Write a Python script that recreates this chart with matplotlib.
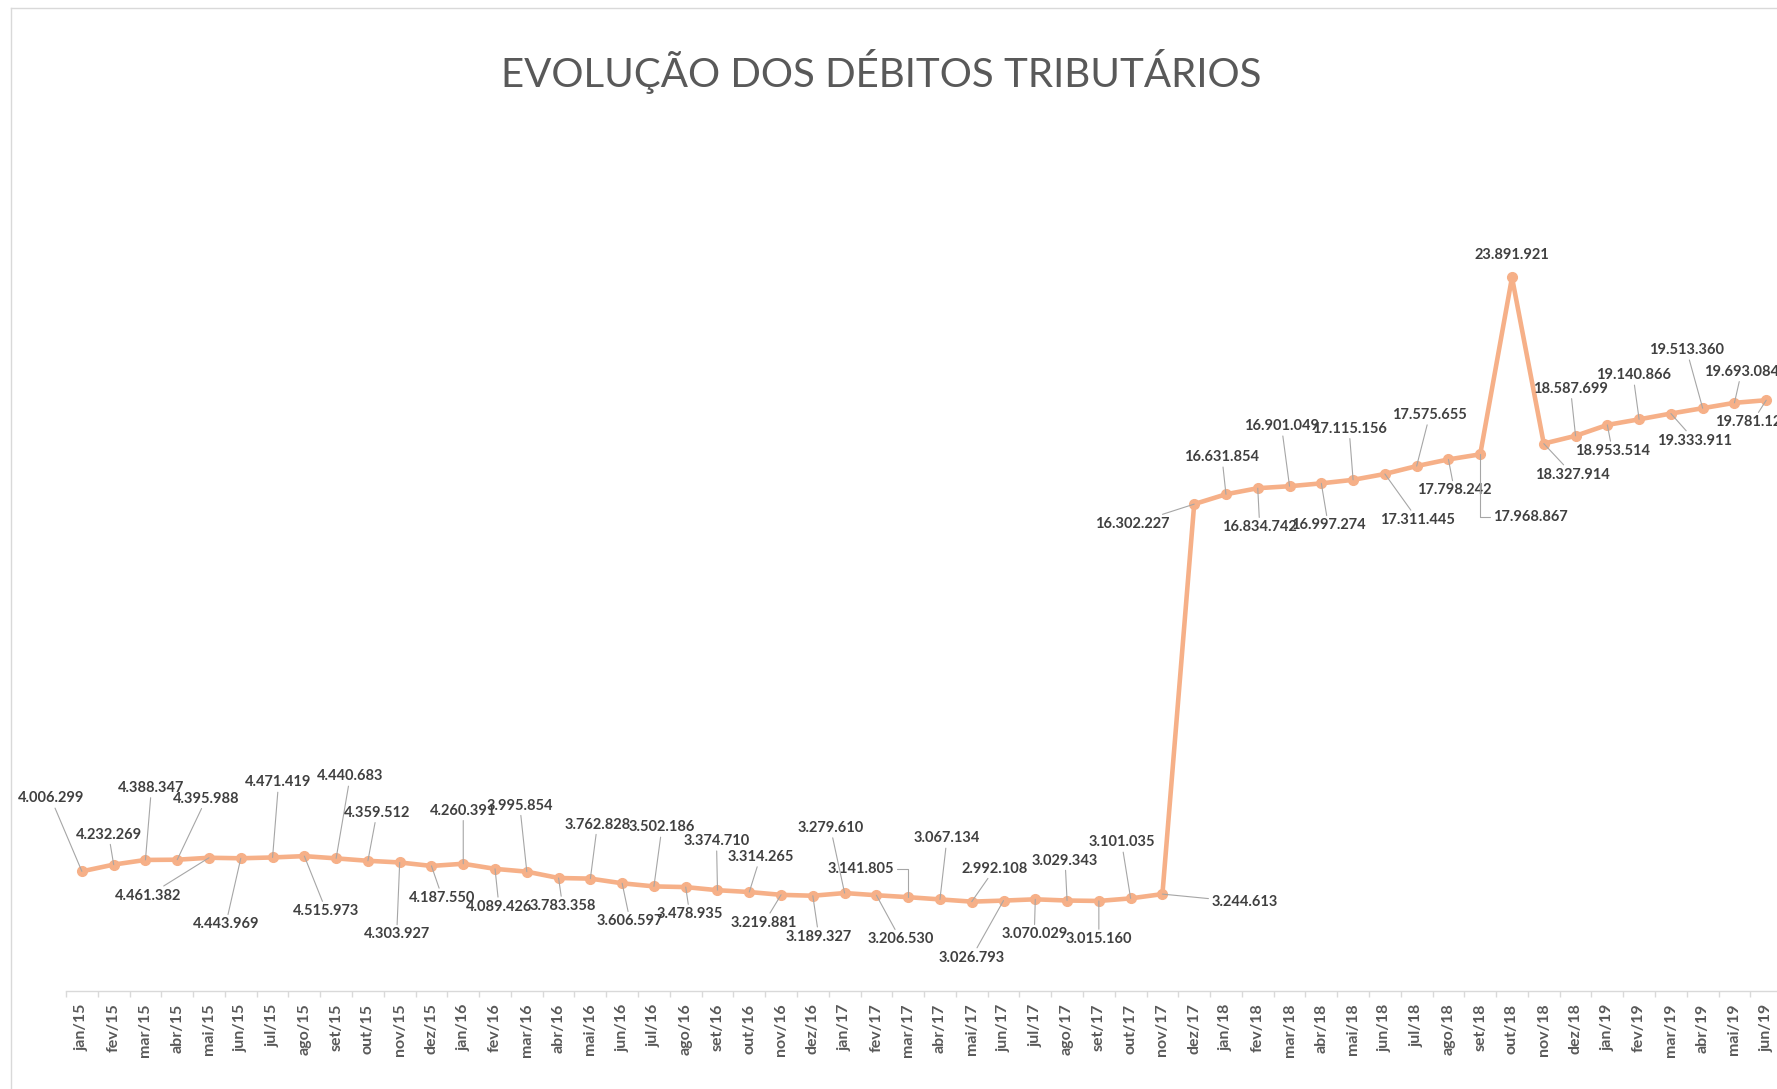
import matplotlib
matplotlib.use("Agg")
import matplotlib.pyplot as plt
from matplotlib.lines import Line2D

# categories: jan/15 .. jun/19
MONTHS = ["jan", "fev", "mar", "abr", "mai", "jun", "jul", "ago", "set", "out", "nov", "dez"]
YEARS = ["15", "16", "17", "18", "19"]
meses = [f"{m}/{y}" for y in YEARS for m in MONTHS][:54]

debitos = [4006299, 4232269, 4388347, 4395988, 4461382, 4443969, 4471419, 4515973,
           4440683, 4359512, 4303927, 4187550, 4260391, 4089426, 3995854, 3783358, 3762828,
           3606597, 3502186, 3478935, 3374710, 3314265, 3219881, 3189327, 3279610, 3206530,
           3141805, 3067134, 2992108, 3026793, 3070029, 3029343, 3015160, 3101035, 3244613,
           16302227, 16631854, 16834742, 16901049, 16997274, 17115156, 17311445, 17575655,
           17798242, 17968867, 23891921, 18327914, 18587699, 18953514, 19140866, 19333911,
           19513360, 19693084, 19781120]

# label placement (pixels from the point, x right / y down), Excel-style scattered labels
offsets = [(-31, -73), (-5, -30), (6, -72), (29, -61), (-61, 38), (-15, 66), (6, -75),
           (22, 55), (14, -82), (9, -48), (-3, 72), (11, 32), (0, -53), (4, 38), (-7, -66),
           (4, 28), (7, -54), (8, 38), (8, -59), (4, 27), (-1, -49), (11, -35), (-17, 28),
           (6, 41), (-14, -65), (24, 44), (-47, -28), (7, -61), (23, -33), (-32, 57),
           (-1, 35), (-2, -40), (0, 38), (-9, -56), (82, 8), (-62, 20), (-4, -37), (2, 39),
           (-8, -60), (7, 42), (-4, -51), (33, 46), (13, -51), (6, 31), (50, 63), (0, -22),
           (29, 31), (-5, -47), (5, 26), (-6, -44), (24, 27), (-16, -58), (7, -31), (-14, 22)]
ELBOW = {26, 44}   # leader lines drawn with a right angle
NO_LEADER = {45}

W, H = 1777, 1089
LINE = "#F6B088"
TXT = "#404040"
GRID = "#D9D9D9"

fig = plt.figure(figsize=(W / 100, H / 100), dpi=100)
# plot area in pixels: x from 66 spanning 54 categories of ~31.78 px; y=0 at 991, 30M at 95
ax = fig.add_axes([66 / W, 1 - 991 / H, 54 * 31.78 / W, 896 / H])
x = list(range(len(debitos)))
ax.plot(x, debitos, color=LINE, lw=3.3, marker="o", ms=7, mec=LINE, mfc=LINE,
        solid_joinstyle="round", zorder=3, clip_on=False)
ax.set_xlim(-0.5, len(debitos) - 0.5)
ax.set_ylim(0, 30e6)

for i, (v, (dx, dy)) in enumerate(zip(debitos, offsets)):
    lbl = f"{v:,}".replace(",", ".")
    arrow = None
    if i not in NO_LEADER:
        arrow = dict(arrowstyle="-", color="#A6A6A6", lw=0.8, shrinkA=0, shrinkB=0)
        if i in ELBOW:
            arrow["connectionstyle"] = "angle,angleA=0,angleB=90,rad=0"
    ax.annotate(lbl, (i, v), xytext=(dx, -dy), textcoords="offset pixels",
                ha="center", va="center", fontsize=10.5, fontweight="bold",
                family="Lato", color=TXT, arrowprops=arrow, zorder=4,
                annotation_clip=False)

for s in ("left", "right", "top"):
    ax.spines[s].set_visible(False)
ax.spines["bottom"].set_color(GRID)
ax.spines["bottom"].set_linewidth(1)
ax.set_yticks([])
ax.set_xticks(x)
ax.set_xticklabels(meses, rotation=90, fontsize=11.5, family="Lato",
                   fontweight="bold", color="#595959")
ax.tick_params(axis="x", which="major", length=0, pad=9)
ax.set_xticks([i - 0.5 for i in range(len(debitos) + 1)], minor=True)
ax.tick_params(axis="x", which="minor", length=4, color=GRID, width=1)

fig.text(0.496, 1 - 71 / H, "EVOLUÇÃO DOS DÉBITOS TRIBUTÁRIOS", ha="center", va="center",
         fontsize=29, family="Lato", color="#595959")

# chart-area border (only left and top edges fall inside the picture)
fig.add_artist(Line2D([11 / W, 11 / W], [0, 1 - 8 / H], transform=fig.transFigure,
                      color=GRID, lw=1))
fig.add_artist(Line2D([11 / W, 1], [1 - 8 / H, 1 - 8 / H], transform=fig.transFigure,
                      color=GRID, lw=1))

fig.savefig("out.png", dpi=100)
